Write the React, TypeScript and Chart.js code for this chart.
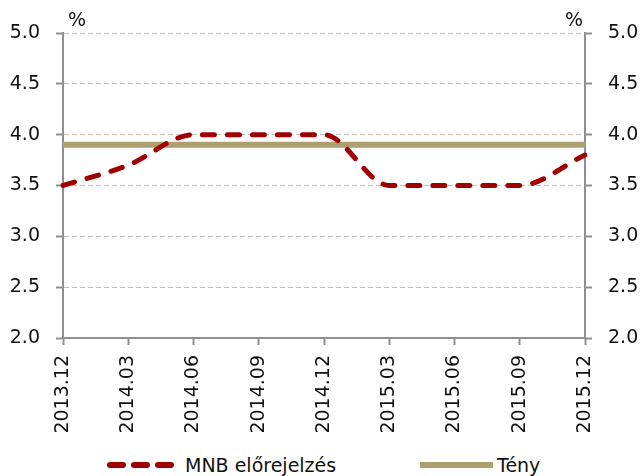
import React, { useEffect, useRef } from "react";
import { Chart, registerables } from "chart.js";

Chart.register(...registerables);

// Quarterly periods on the horizontal axis
const periods = [
  "2013.12", "2014.03", "2014.06", "2014.09", "2014.12",
  "2015.03", "2015.06", "2015.09", "2015.12",
];

// MNB forecast (%)
const mnbForecast = [3.5, 3.7, 4.0, 4.0, 4.0, 3.5, 3.5, 3.5, 3.8];

// Actual value (%)
const actual = [3.9, 3.9, 3.9, 3.9, 3.9, 3.9, 3.9, 3.9, 3.9];

const yMin = 2.0;
const yMax = 5.0;
const yStep = 0.5;

const FONT = "'DejaVu Sans', sans-serif";
const RED = "#A00000";
const TAN = "#AE9F6F";
const AXIS = "#8E8E8E";
const GRID = "#BEBEBE";

// Draws the "%" unit labels above both value axes
const unitLabels = {
  id: "unitLabels",
  afterDraw(chart: any) {
    const { ctx, chartArea } = chart;
    ctx.save();
    ctx.fillStyle = "#111";
    ctx.font = `19px ${FONT}`;
    ctx.textBaseline = "middle";
    ctx.textAlign = "left";
    ctx.fillText("%", chartArea.left + 5, chartArea.top - 12);
    ctx.textAlign = "right";
    ctx.fillText("%", chartArea.right - 2, chartArea.top - 12);
    ctx.restore();
  },
};

export default function App() {
  const ref = useRef<HTMLCanvasElement | null>(null);

  useEffect(() => {
    if (!ref.current) return;
    const tickFont = { family: FONT, size: 19 };
    const yTicks = {
      stepSize: yStep,
      padding: 16,
      color: "#111",
      font: tickFont,
      callback: (v: any) => Number(v).toFixed(1),
    };
    const chart = new Chart(ref.current, {
      type: "line",
      data: {
        labels: periods,
        datasets: [
          {
            label: "MNB előrejelzés",
            data: mnbForecast,
            borderColor: RED,
            backgroundColor: RED,
            borderWidth: 5,
            borderDash: [12, 13],
            borderCapStyle: "round",
            borderJoinStyle: "round",
            pointRadius: 0,
            cubicInterpolationMode: "monotone",
            yAxisID: "y",
          },
          {
            label: "Tény",
            data: actual,
            borderColor: TAN,
            backgroundColor: TAN,
            borderWidth: 6,
            pointRadius: 0,
            tension: 0,
            yAxisID: "y",
          },
        ],
      },
      options: {
        responsive: false,
        animation: false,
        layout: { padding: { top: 33, left: 0, right: 0, bottom: 0 } },
        plugins: {
          legend: { display: false },
          tooltip: { enabled: false },
        },
        scales: {
          x: {
            type: "category",
            offset: false,
            grid: {
              drawOnChartArea: false,
              drawTicks: true,
              tickLength: 7,
              tickColor: AXIS,
              tickWidth: 2,
            },
            border: { color: AXIS, width: 2 },
            ticks: {
              minRotation: 90,
              maxRotation: 90,
              padding: 10,
              color: "#111",
              font: tickFont,
              autoSkip: false,
            },
            afterFit: (s: any) => {
              s.height = 102;
            },
          },
          y: {
            position: "left",
            min: yMin,
            max: yMax,
            grid: {
              color: GRID,
              lineWidth: 1,
              tickLength: 7,
              tickColor: AXIS,
              tickWidth: 2,
              tickBorderDash: [],
            },
            border: { color: AXIS, width: 2, dash: [5, 3] },
            ticks: yTicks,
            afterFit: (s: any) => {
              s.width = 63;
            },
          },
          y2: {
            position: "right",
            min: yMin,
            max: yMax,
            grid: {
              drawOnChartArea: false,
              tickLength: 7,
              tickColor: AXIS,
              tickWidth: 2,
            },
            border: { color: AXIS, width: 2 },
            ticks: yTicks,
            afterFit: (s: any) => {
              s.width = 58;
            },
          },
        },
      },
      plugins: [unitLabels],
    });
    return () => chart.destroy();
  }, []);

  const legendText: React.CSSProperties = {
    position: "absolute",
    top: 0,
    fontFamily: FONT,
    fontSize: 19,
    lineHeight: "24px",
    color: "#111",
    whiteSpace: "nowrap",
  };

  return (
    <div
      style={{
        position: "fixed",
        left: 0,
        top: 0,
        width: 643,
        height: 476,
        background: "#fff",
        overflow: "hidden",
      }}
    >
      <canvas ref={ref} width={643} height={440} style={{ display: "block" }} />
      <div style={{ position: "absolute", left: 0, top: 453, width: 643, height: 24 }}>
        <svg
          width={70}
          height={24}
          style={{ position: "absolute", left: 105, top: 0 }}
        >
          <line
            x1={5}
            y1={12}
            x2={66}
            y2={12}
            stroke={RED}
            strokeWidth={6}
            strokeLinecap="round"
            strokeDasharray="13 11"
          />
        </svg>
        <span style={{ ...legendText, left: 185 }}>MNB előrejelzés</span>
        <svg
          width={78}
          height={24}
          style={{ position: "absolute", left: 418, top: 0 }}
        >
          <line x1={2} y1={12} x2={75} y2={12} stroke={TAN} strokeWidth={6} />
        </svg>
        <span style={{ ...legendText, left: 497 }}>Tény</span>
      </div>
    </div>
  );
}
